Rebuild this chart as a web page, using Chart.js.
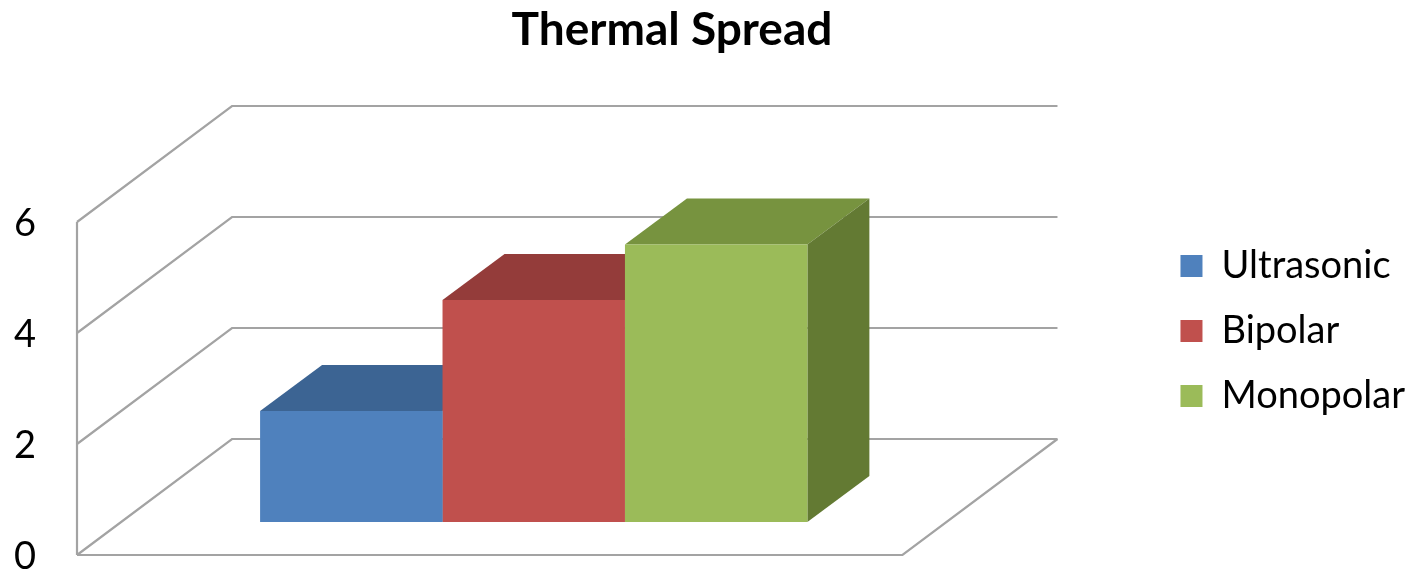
<!DOCTYPE html>
<html>
<head>
<meta charset="utf-8">
<title>Thermal Spread</title>
<script src="https://cdn.jsdelivr.net/npm/chart.js@4.4.1/dist/chart.umd.min.js"></script>
<style>
  html, body { margin: 0; padding: 0; background: #ffffff; }
  #wrap { width: 1415px; height: 576px; }
</style>
</head>
<body>
<div id="wrap"><canvas id="chart" width="1415" height="576"></canvas></div>
<script>
// ---- data ----
const chartTitle = 'Thermal Spread';
const categories = ['Thermal Spread'];
const seriesNames = ['Ultrasonic', 'Bipolar', 'Monopolar'];
const seriesValues = [2, 4, 5];
const yTickValues = [0, 2, 4, 6];

// ---- colours (front, top and right-hand faces of each box) ----
const frontColors = ['#4F81BD', '#C0504D', '#9BBB59'];
const topColors = ['#3C6493', '#943C3A', '#77933F'];
const sideColors = ['#335680', '#7F3230', '#637A33'];

Chart.defaults.font.family = 'Lato, "Open Sans", sans-serif';
Chart.defaults.color = '#000000';

// Draws the oblique 3-D frame (side wall, back wall, floor), the value labels
// on the front edge, the top / right faces of every bar, and the heading.
const obliqueFrame = {
  id: 'obliqueFrame',
  beforeDatasetsDraw(chart, args, opts) {
    const { ctx, chartArea: ca } = chart;
    const y = chart.scales.y;
    const f = opts.front, b = opts.back, d = opts.depth;
    const y0 = y.getPixelForValue(y.min);
    const yMax = y.getPixelForValue(y.max);

    ctx.save();
    ctx.strokeStyle = opts.lineColor;
    ctx.lineWidth = opts.lineWidth;
    ctx.lineJoin = 'miter';
    ctx.lineCap = 'butt';

    // front edge of the side wall
    ctx.beginPath();
    ctx.moveTo(ca.left + f.dx, y0 + f.dy);
    ctx.lineTo(ca.left + f.dx, yMax + f.dy);
    ctx.stroke();

    // gridlines running across the side wall and the back wall
    y.ticks.forEach(t => {
      const py = y.getPixelForValue(t.value);
      ctx.beginPath();
      ctx.moveTo(ca.left + f.dx, py + f.dy);
      ctx.lineTo(ca.left + b.dx, py + b.dy);
      ctx.lineTo(ca.right + b.dx, py + b.dy);
      ctx.stroke();
    });

    // floor: front and right edges
    ctx.beginPath();
    ctx.moveTo(ca.left + f.dx, y0 + f.dy);
    ctx.lineTo(ca.right + f.dx, y0 + f.dy);
    ctx.lineTo(ca.right + b.dx, y0 + b.dy);
    ctx.stroke();

    // value labels along the front edge
    ctx.fillStyle = opts.labelColor;
    ctx.font = opts.labelFont;
    ctx.textAlign = 'right';
    ctx.textBaseline = 'middle';
    y.ticks.forEach(t => {
      const py = y.getPixelForValue(t.value);
      ctx.fillText(t.label, ca.left + f.dx + opts.labelOffsetX, py + f.dy + opts.labelOffsetY);
    });

    // top and right faces of each bar (the front faces are drawn by Chart.js)
    chart.data.datasets.forEach((ds, i) => {
      const meta = chart.getDatasetMeta(i);
      if (meta.hidden) return;
      meta.data.forEach(el => {
        const p = el.getProps(['x', 'y', 'base', 'width'], true);
        const l = p.x - p.width / 2, r = p.x + p.width / 2;
        ctx.fillStyle = topColors[i];
        ctx.beginPath();
        ctx.moveTo(l, p.y);
        ctx.lineTo(l + d.dx, p.y + d.dy);
        ctx.lineTo(r + d.dx, p.y + d.dy);
        ctx.lineTo(r, p.y);
        ctx.closePath();
        ctx.fill();
        ctx.fillStyle = sideColors[i];
        ctx.beginPath();
        ctx.moveTo(r, p.y);
        ctx.lineTo(r + d.dx, p.y + d.dy);
        ctx.lineTo(r + d.dx, p.base + d.dy);
        ctx.lineTo(r, p.base);
        ctx.closePath();
        ctx.fill();
      });
    });
    ctx.restore();
  },
  afterDraw(chart, args, opts) {
    const { ctx } = chart;
    ctx.save();
    ctx.fillStyle = opts.titleColor;
    ctx.font = opts.titleFont;
    ctx.textAlign = 'center';
    ctx.textBaseline = 'middle';
    ctx.fillText(chartTitle, opts.titleX, opts.titleY);
    ctx.restore();
  }
};

new Chart(document.getElementById('chart'), {
  type: 'bar',
  data: {
    labels: categories,
    datasets: seriesNames.map((name, i) => ({
      label: name,
      data: [seriesValues[i]],
      backgroundColor: frontColors[i],
      borderWidth: 0,
      categoryPercentage: 0.663,
      barPercentage: 1
    }))
  },
  options: {
    responsive: false,
    animation: false,
    events: [],
    layout: { padding: { left: 121, right: 0, top: 189, bottom: 54 } },
    scales: {
      x: { type: 'category', display: false },
      y: {
        position: 'right',
        min: 0,
        max: 6,
        afterBuildTicks: s => { s.ticks = yTickValues.map(v => ({ value: v })); },
        afterFit: s => { s.width = 207; },
        ticks: { display: false },
        grid: { display: false },
        border: { display: false }
      }
    },
    plugins: {
      title: { display: false },
      legend: {
        position: 'right',
        align: 'start',
        fullSize: false,
        title: { display: true, text: '', font: { size: 1, lineHeight: 1 }, padding: { top: 30, bottom: 0 } },
        labels: {
          color: '#000000',
          font: { size: 38 },
          boxWidth: 22,
          boxHeight: 22,
          padding: 27
        }
      },
      tooltip: { enabled: false },
      obliqueFrame: {
        front: { dx: -44, dy: 33 },
        back: { dx: 111, dy: -83 },
        depth: { dx: 62, dy: -46 },
        lineColor: '#A3A3A3',
        lineWidth: 2.2,
        labelColor: '#000000',
        labelFont: '38px Lato, "Open Sans", sans-serif',
        labelOffsetX: -41,
        labelOffsetY: 2,
        titleColor: '#000000',
        titleFont: 'bold 46px Lato, "Open Sans", sans-serif',
        titleX: 672,
        titleY: 30
      }
    }
  },
  plugins: [obliqueFrame]
});
</script>
</body>
</html>
